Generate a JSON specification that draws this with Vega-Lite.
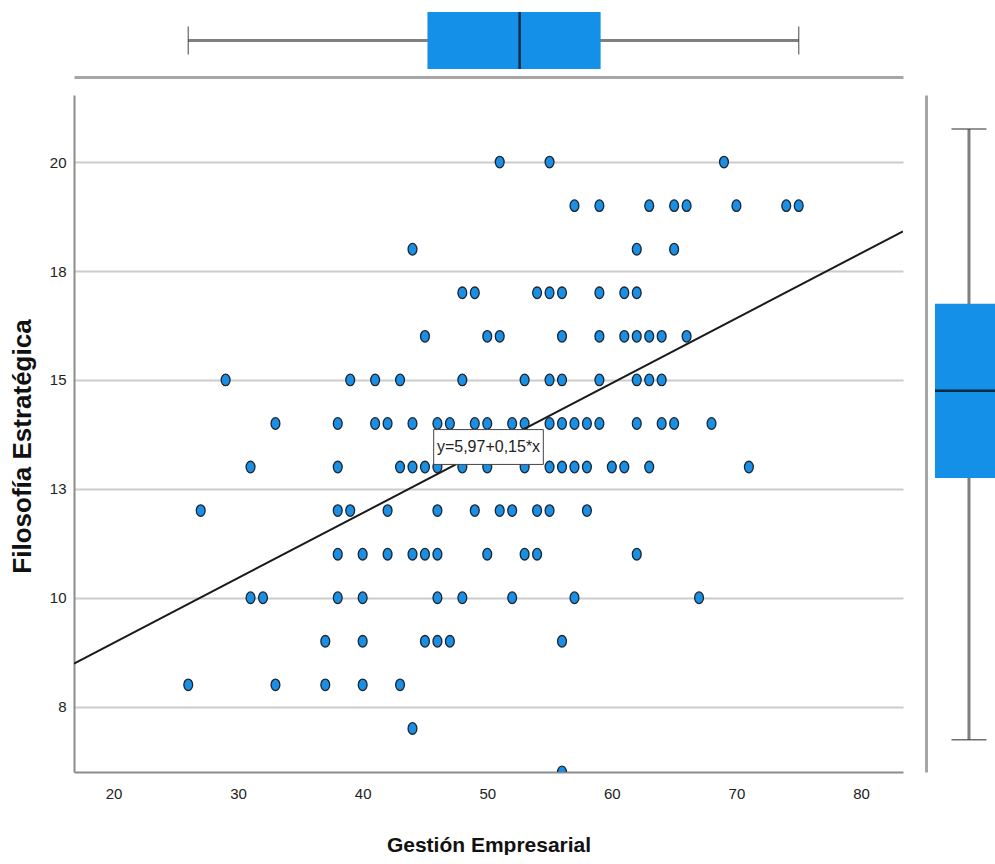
{
  "$schema": "https://vega.github.io/schema/vega-lite/v6.json",
  "background": "white",
  "padding": {"left": 9, "top": 4, "right": 0, "bottom": 0},
  "config": {
    "view": {"stroke": null},
    "font": "Liberation Sans"
  },
  "datasets": {
    "pts": [
      {"ge": 51, "fe": 20}, {"ge": 55, "fe": 20}, {"ge": 69, "fe": 20},
      {"ge": 57, "fe": 19}, {"ge": 59, "fe": 19}, {"ge": 63, "fe": 19}, {"ge": 65, "fe": 19}, {"ge": 66, "fe": 19}, {"ge": 70, "fe": 19}, {"ge": 74, "fe": 19}, {"ge": 75, "fe": 19},
      {"ge": 44, "fe": 18}, {"ge": 62, "fe": 18}, {"ge": 65, "fe": 18},
      {"ge": 48, "fe": 17}, {"ge": 49, "fe": 17}, {"ge": 54, "fe": 17}, {"ge": 55, "fe": 17}, {"ge": 56, "fe": 17}, {"ge": 59, "fe": 17}, {"ge": 61, "fe": 17}, {"ge": 62, "fe": 17},
      {"ge": 45, "fe": 16}, {"ge": 50, "fe": 16}, {"ge": 51, "fe": 16}, {"ge": 56, "fe": 16}, {"ge": 59, "fe": 16}, {"ge": 61, "fe": 16}, {"ge": 62, "fe": 16}, {"ge": 63, "fe": 16}, {"ge": 64, "fe": 16}, {"ge": 66, "fe": 16},
      {"ge": 29, "fe": 15}, {"ge": 39, "fe": 15}, {"ge": 41, "fe": 15}, {"ge": 43, "fe": 15}, {"ge": 48, "fe": 15}, {"ge": 53, "fe": 15}, {"ge": 55, "fe": 15}, {"ge": 56, "fe": 15}, {"ge": 59, "fe": 15}, {"ge": 62, "fe": 15}, {"ge": 63, "fe": 15}, {"ge": 64, "fe": 15},
      {"ge": 33, "fe": 14}, {"ge": 38, "fe": 14}, {"ge": 41, "fe": 14}, {"ge": 42, "fe": 14}, {"ge": 44, "fe": 14}, {"ge": 46, "fe": 14}, {"ge": 47, "fe": 14}, {"ge": 49, "fe": 14}, {"ge": 50, "fe": 14}, {"ge": 52, "fe": 14}, {"ge": 53, "fe": 14}, {"ge": 55, "fe": 14}, {"ge": 56, "fe": 14}, {"ge": 57, "fe": 14}, {"ge": 58, "fe": 14}, {"ge": 59, "fe": 14}, {"ge": 62, "fe": 14}, {"ge": 64, "fe": 14}, {"ge": 65, "fe": 14}, {"ge": 68, "fe": 14},
      {"ge": 31, "fe": 13}, {"ge": 38, "fe": 13}, {"ge": 43, "fe": 13}, {"ge": 44, "fe": 13}, {"ge": 45, "fe": 13}, {"ge": 46, "fe": 13}, {"ge": 48, "fe": 13}, {"ge": 50, "fe": 13}, {"ge": 53, "fe": 13}, {"ge": 55, "fe": 13}, {"ge": 56, "fe": 13}, {"ge": 57, "fe": 13}, {"ge": 58, "fe": 13}, {"ge": 60, "fe": 13}, {"ge": 61, "fe": 13}, {"ge": 63, "fe": 13}, {"ge": 71, "fe": 13},
      {"ge": 27, "fe": 12}, {"ge": 38, "fe": 12}, {"ge": 39, "fe": 12}, {"ge": 42, "fe": 12}, {"ge": 46, "fe": 12}, {"ge": 49, "fe": 12}, {"ge": 51, "fe": 12}, {"ge": 52, "fe": 12}, {"ge": 54, "fe": 12}, {"ge": 55, "fe": 12}, {"ge": 58, "fe": 12},
      {"ge": 38, "fe": 11}, {"ge": 40, "fe": 11}, {"ge": 42, "fe": 11}, {"ge": 44, "fe": 11}, {"ge": 45, "fe": 11}, {"ge": 46, "fe": 11}, {"ge": 50, "fe": 11}, {"ge": 53, "fe": 11}, {"ge": 54, "fe": 11}, {"ge": 62, "fe": 11},
      {"ge": 31, "fe": 10}, {"ge": 32, "fe": 10}, {"ge": 38, "fe": 10}, {"ge": 40, "fe": 10}, {"ge": 46, "fe": 10}, {"ge": 48, "fe": 10}, {"ge": 52, "fe": 10}, {"ge": 57, "fe": 10}, {"ge": 67, "fe": 10},
      {"ge": 37, "fe": 9}, {"ge": 40, "fe": 9}, {"ge": 45, "fe": 9}, {"ge": 46, "fe": 9}, {"ge": 47, "fe": 9}, {"ge": 56, "fe": 9},
      {"ge": 26, "fe": 8}, {"ge": 33, "fe": 8}, {"ge": 37, "fe": 8}, {"ge": 40, "fe": 8}, {"ge": 43, "fe": 8},
      {"ge": 44, "fe": 7},
      {"ge": 56, "fe": 6}
    ],
    "fit": [{"ge": 16.83, "fe": 8.49}, {"ge": 83.37, "fe": 18.41}],
    "eq": [{"x1": 45.7, "x2": 54.5, "y1": 13.06, "y2": 13.86, "xm": 50.1, "ym": 13.46, "label": "y=5,97+0,15*x"}],
    "boxX": [{"var": "Gestión Empresarial", "lower": 26, "q1": 45.2, "median": 52.6, "q3": 59.1, "upper": 75}],
    "boxY": [{"var": "Filosofía Estratégica", "lower": 6.74, "q1": 12.75, "median": 14.75, "q3": 16.75, "upper": 20.76}]
  },
  "columns": 2,
  "bounds": "flush",
  "spacing": {"row": 18, "column": 23},
  "resolve": {"scale": {"x": "independent", "y": "independent"}, "axis": {"x": "independent", "y": "independent"}},
  "concat": [
    {
      "width": 829,
      "height": 73,
      "data": {"name": "boxX"},
      "encoding": {
        "y": {"field": "var", "type": "nominal", "scale": {"paddingInner": 0, "paddingOuter": 0}, "axis": null}
      },
      "layer": [
        {
          "mark": {"type": "rule", "color": "#7f7f7f", "strokeWidth": 3},
          "encoding": {
            "x": {"field": "lower", "type": "quantitative", "scale": {"domain": [16.83, 83.37], "nice": false, "zero": false},
              "axis": {"orient": "bottom", "labels": false, "ticks": false, "grid": false, "title": null, "domainColor": "#a6a6a6", "domainWidth": 3}},
            "x2": {"field": "upper"}
          }
        },
        {
          "mark": {"type": "tick", "color": "#333333", "thickness": 1.3, "size": 28},
          "encoding": {"x": {"field": "lower", "type": "quantitative"}}
        },
        {
          "mark": {"type": "tick", "color": "#333333", "thickness": 1.3, "size": 28},
          "encoding": {"x": {"field": "upper", "type": "quantitative"}}
        },
        {
          "mark": {"type": "bar", "color": "#1490e8", "size": 57},
          "encoding": {"x": {"field": "q1", "type": "quantitative"}, "x2": {"field": "q3"}}
        },
        {
          "mark": {"type": "tick", "color": "#000000", "thickness": 2.5, "size": 57},
          "encoding": {"x": {"field": "median", "type": "quantitative"}}
        }
      ]
    },
    {
      "width": 69,
      "height": 73,
      "data": {"values": []},
      "mark": {"type": "point", "opacity": 0},
      "encoding": {}
    },
    {
      "width": 829,
      "height": 677,
      "layer": [
        {
          "data": {"name": "pts"},
          "mark": {"type": "point", "filled": true, "clip": true, "shape": "M0,-1A0.76,1,0,1,1,0,1A0.76,1,0,1,1,0,-1Z", "size": 135, "fill": "#1a8fe3", "stroke": "#1c2530", "strokeWidth": 1.3, "opacity": 1},
          "encoding": {
            "x": {"field": "ge", "type": "quantitative", "scale": {"domain": [16.83, 83.37], "nice": false, "zero": false},
              "axis": {"title": "Gestión Empresarial", "values": [20, 30, 40, 50, 60, 70, 80], "grid": false, "ticks": false,
                "domainColor": "#8c8c8c", "domainWidth": 2, "labelFont": "Liberation Sans", "labelFontSize": 15, "labelColor": "#222222", "labelPadding": 14,
                "titleFont": "Liberation Sans", "titleFontSize": 21, "titleFontWeight": "bold", "titleColor": "#111111", "titlePadding": 33}},
            "y": {"field": "fe", "type": "quantitative", "scale": {"domain": [6, 21.54], "nice": false, "zero": false},
              "axis": {"title": "Filosofía Estratégica", "values": [7.5, 10, 12.5, 15, 17.5, 20], "labelExpr": "round(datum.value)", "grid": true, "gridColor": "#cccccc", "gridWidth": 2, "ticks": false,
                "domainColor": "#8c8c8c", "domainWidth": 2, "labelFont": "Liberation Sans", "labelFontSize": 15, "labelColor": "#222222", "labelPadding": 8,
                "titleFont": "Liberation Sans", "titleFontSize": 26, "titleFontWeight": "bold", "titleColor": "#111111", "titlePadding": 14, "titleY": 351}}
          }
        },
        {
          "data": {"name": "fit"},
          "mark": {"type": "line", "color": "#1a1a1a", "strokeWidth": 2, "clip": true},
          "encoding": {
            "x": {"field": "ge", "type": "quantitative"},
            "y": {"field": "fe", "type": "quantitative"}
          }
        },
        {
          "data": {"name": "eq"},
          "mark": {"type": "rect", "fill": "white", "stroke": "#444444", "strokeWidth": 1},
          "encoding": {
            "x": {"field": "x1", "type": "quantitative"}, "x2": {"field": "x2"},
            "y": {"field": "y1", "type": "quantitative"}, "y2": {"field": "y2"}
          }
        },
        {
          "data": {"name": "eq"},
          "mark": {"type": "text", "font": "Liberation Sans", "fontSize": 16, "color": "#222222", "align": "center", "baseline": "middle"},
          "encoding": {
            "x": {"field": "xm", "type": "quantitative"},
            "y": {"field": "ym", "type": "quantitative"},
            "text": {"field": "label"}
          }
        }
      ]
    },
    {
      "width": 69,
      "height": 677,
      "data": {"name": "boxY"},
      "encoding": {
        "x": {"field": "var", "type": "nominal", "scale": {"paddingInner": 0, "paddingOuter": 0.163, "align": 1}, "axis": null}
      },
      "layer": [
        {
          "mark": {"type": "rule", "color": "#7f7f7f", "strokeWidth": 3},
          "encoding": {
            "y": {"field": "lower", "type": "quantitative", "scale": {"domain": [6, 21.54], "nice": false, "zero": false},
              "axis": {"orient": "left", "labels": false, "ticks": false, "grid": false, "title": null, "domainColor": "#a6a6a6", "domainWidth": 3}},
            "y2": {"field": "upper"}
          }
        },
        {
          "mark": {"type": "tick", "color": "#333333", "thickness": 1.3, "size": 35},
          "encoding": {"y": {"field": "lower", "type": "quantitative"}}
        },
        {
          "mark": {"type": "tick", "color": "#333333", "thickness": 1.3, "size": 35},
          "encoding": {"y": {"field": "upper", "type": "quantitative"}}
        },
        {
          "mark": {"type": "bar", "color": "#1490e8", "size": 68, "clip": true},
          "encoding": {"y": {"field": "q1", "type": "quantitative"}, "y2": {"field": "q3"}}
        },
        {
          "mark": {"type": "tick", "color": "#000000", "thickness": 2.5, "size": 68, "clip": true},
          "encoding": {"y": {"field": "median", "type": "quantitative"}}
        }
      ]
    }
  ]
}
